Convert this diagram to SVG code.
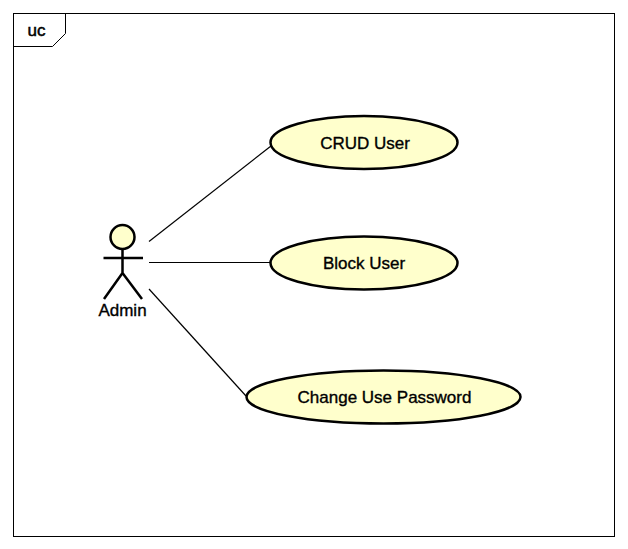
<svg xmlns="http://www.w3.org/2000/svg" width="628" height="549" viewBox="0 0 628 549">
<style>
text{font-family:"Liberation Sans",Arial,sans-serif;font-size:17px;fill:#000;text-anchor:middle;stroke:#000;stroke-width:.35px}
.uc{fill:#ffffcc;stroke:#000;stroke-width:2.5px}
.ln{fill:none;stroke:#000;stroke-width:1.2px}
.act{fill:none;stroke:#000;stroke-width:2.5px}
</style>
<rect width="628" height="549" fill="#fff"/>
<g id="frame">
<rect x="13.500" y="13.500" width="601" height="523" fill="none" stroke="#000" stroke-width="1"/>
<path d="M13.500 46.500H52.500L65.500 33.500V13.500" fill="none" stroke="#000" stroke-width="1"/>
<text x="36.500" y="36" style="font-size:17px;stroke-width:.5px">uc</text>
</g>
<g id="connectors">
<line class="ln" x1="149" y1="241.500" x2="271" y2="146"/>
<line class="ln" x1="149" y1="262.500" x2="271" y2="262.500"/>
<line class="ln" x1="149" y1="289" x2="246" y2="396"/>
</g>
<g id="actor-admin">
<circle cx="122.500" cy="237" r="12" fill="#ffffcc" stroke="#000" stroke-width="2.500"/>
<path class="act" d="M122.500 249V273M103.500 258H143M122.500 273L104 299M122.500 273L142 299"/>
<text x="122.500" y="315.500">Admin</text>
</g>
<g id="uc-crud">
<ellipse class="uc" cx="364" cy="142.500" rx="93.500" ry="26.500"/>
<text x="365" y="148.500">CRUD User</text>
</g>
<g id="uc-block">
<ellipse class="uc" cx="364" cy="263" rx="93.500" ry="26.500"/>
<text x="364" y="268.500">Block User</text>
</g>
<g id="uc-change">
<ellipse class="uc" cx="383.500" cy="397" rx="137" ry="26.500"/>
<text x="384.500" y="402.500">Change Use Password</text>
</g>
</svg>
